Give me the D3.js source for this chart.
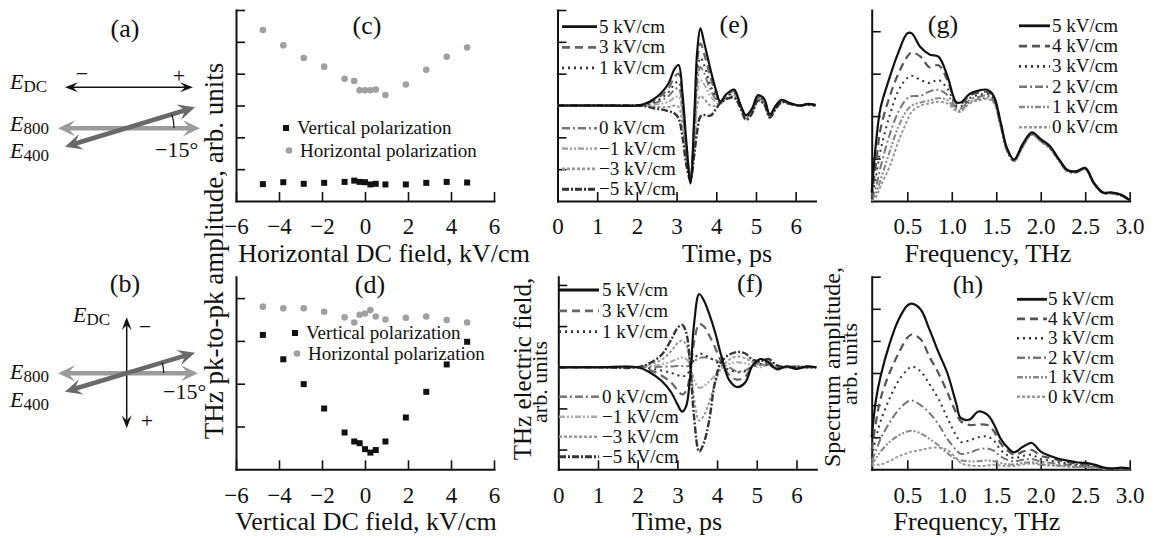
<!DOCTYPE html>
<html>
<head>
<meta charset="utf-8">
<script src="https://cdn.jsdelivr.net/npm/d3@7"></script>
<style>
  body { margin: 0; background: #fff; }
  svg { display: block; }
  text { font-family: "Liberation Serif", "Times New Roman", serif; fill: #111; }
</style>
</head>
<body>
<svg id="fig" width="1155" height="538"></svg>
<script>
// ---------------- data ----------------
// (c), (d): THz pk-to-pk amplitude vs DC field
const dcField = [-4.75, -3.8, -2.85, -1.9, -0.95, -0.5, -0.25, 0, 0.25, 0.5, 0.95, 1.9, 2.85, 3.8, 4.75];
const cHoriz = [5.37, 4.89, 4.49, 4.22, 3.84, 3.77, 3.48, 3.48, 3.48, 3.5, 3.33, 3.66, 4.12, 4.53, 4.82];
const cVert  = [0.53, 0.59, 0.54, 0.57, 0.6, 0.64, 0.6, 0.59, 0.52, 0.54, 0.52, 0.52, 0.57, 0.6, 0.58];
const dHoriz = [3.8, 3.76, 3.76, 3.68, 3.55, 3.43, 3.61, 3.64, 3.72, 3.57, 3.5, 3.54, 3.57, 3.49, 3.43];
const dVert  = [3.14, 2.57, 1.99, 1.42, 0.86, 0.65, 0.61, 0.47, 0.39, 0.45, 0.65, 1.21, 1.81, 2.45, 2.98];

// (e): THz waveforms, horizontal DC field
const timeE = [0, 1.0, 2.0, 2.2, 2.4, 2.6, 2.8, 2.95, 3.05, 3.15, 3.25, 3.35, 3.45, 3.52, 3.6, 3.7, 3.85, 4.0, 4.1, 4.25, 4.45, 4.6, 4.75, 4.9, 5.05, 5.2, 5.35, 5.5, 5.65, 5.85, 6.1, 6.3, 6.5];
const waveE5  = [0, 0, 0, 0.05, 0.18, 0.38, 0.7, 1.15, 1.27, 0.35, -1.2, -2.45, -0.2, 1.7, 2.42, 1.95, 1.15, 0.45, 0.12, 0.35, 0.5, 0.05, -0.3, -0.1, 0.32, 0.22, -0.28, 0.0, 0.18, 0.08, 0, 0.05, 0.02];
const waveE3  = [0, 0, 0, 0.03, 0.14, 0.3, 0.55, 0.9, 1.0, 0.2, -1.3, -2.35, -0.45, 1.35, 1.95, 1.6, 0.9, 0.35, 0.1, 0.3, 0.45, 0.05, -0.33, -0.14, 0.28, 0.18, -0.3, -0.02, 0.15, 0.07, 0, 0.04, 0.01];
const waveE1  = [0, 0, 0, 0.02, 0.1, 0.22, 0.42, 0.68, 0.75, 0.05, -1.4, -2.25, -0.7, 1.0, 1.5, 1.25, 0.65, 0.25, 0.08, 0.28, 0.4, 0.04, -0.36, -0.18, 0.24, 0.15, -0.32, -0.04, 0.14, 0.06, 0, 0.03, 0.01];
const waveE0  = [0, 0, 0, 0.01, 0.06, 0.15, 0.3, 0.5, 0.55, -0.1, -1.5, -2.2, -0.9, 0.75, 1.2, 1.0, 0.5, 0.18, 0.06, 0.25, 0.36, 0.03, -0.38, -0.2, 0.22, 0.12, -0.33, -0.05, 0.13, 0.06, 0, 0.03, 0.01];
const waveEm1 = [0, 0, 0, 0, 0.02, 0.05, 0.12, 0.25, 0.28, -0.3, -1.6, -2.2, -1.1, 0.4, 0.8, 0.65, 0.3, 0.1, 0.05, 0.23, 0.32, 0.02, -0.4, -0.22, 0.2, 0.1, -0.35, -0.06, 0.12, 0.05, 0, 0.03, 0];
const waveEm3 = [0, 0, 0, -0.01, -0.03, -0.05, -0.05, 0, -0.05, -0.6, -1.75, -2.3, -1.3, 0, 0.3, 0.2, 0, 0, 0.08, 0.22, 0.28, 0, -0.42, -0.24, 0.18, 0.08, -0.36, -0.08, 0.11, 0.05, 0, 0.02, 0];
const waveEm5 = [0, 0, 0, -0.02, -0.08, -0.12, -0.18, -0.25, -0.4, -1.0, -1.9, -2.35, -1.5, -0.8, -0.35, -0.3, -0.32, -0.1, 0.08, 0.2, 0.25, -0.05, -0.45, -0.25, 0.15, 0.05, -0.38, -0.1, 0.1, 0.05, 0, 0.02, 0];

// (f): THz waveforms, vertical DC field
const timeF = [0, 1.0, 2.0, 2.3, 2.6, 2.85, 3.0, 3.12, 3.22, 3.32, 3.42, 3.55, 3.68, 3.8, 3.95, 4.1, 4.3, 4.5, 4.7, 4.9, 5.1, 5.3, 5.5, 5.75, 6.0, 6.25, 6.5];
const waveF5  = [0, 0, 0, -0.12, -0.33, -0.62, -0.9, -1.08, -0.95, -0.25, 1.05, 1.78, 1.6, 1.3, 0.85, 0.3, -0.3, -0.48, -0.38, 0.05, 0.2, 0.12, -0.05, 0.02, -0.04, 0.02, 0];
const waveF3  = [0, 0, 0, -0.07, -0.2, -0.38, -0.55, -0.66, -0.58, -0.15, 0.6, 1.05, 0.98, 0.78, 0.48, 0.15, -0.18, -0.3, -0.24, 0.03, 0.14, 0.08, -0.03, 0.02, -0.02, 0.01, 0];
const waveF1  = [0, 0, 0, -0.03, -0.08, -0.14, -0.19, -0.22, -0.2, -0.05, 0.18, 0.33, 0.3, 0.24, 0.15, 0.05, -0.06, -0.12, -0.1, 0.02, 0.08, 0.05, -0.02, 0.01, -0.01, 0.01, 0];
const waveF0  = [0, 0, 0, 0, 0.01, 0.02, 0.03, 0.03, 0.02, 0.05, 0.15, 0.22, 0.24, 0.22, 0.18, 0.1, 0, -0.1, -0.08, 0.02, 0.06, 0.04, 0, 0.01, 0, 0, 0];
const waveFm1 = [0, 0, 0, 0.03, 0.07, 0.14, 0.2, 0.24, 0.2, 0.06, -0.3, -0.5, -0.45, -0.35, -0.2, -0.05, 0.08, 0.12, 0.1, 0.04, 0, 0.06, 0.02, 0, 0.01, 0, 0];
const waveFm3 = [0, 0, 0, 0.07, 0.18, 0.4, 0.58, 0.65, 0.55, 0.08, -0.75, -1.3, -1.15, -0.85, -0.4, -0.02, 0.18, 0.26, 0.22, 0.12, 0.06, 0.12, 0.03, 0.01, 0.02, 0, 0];
const waveFm5 = [0, 0, 0, 0.1, 0.3, 0.68, 0.95, 1.03, 0.85, 0.1, -1.2, -2.05, -1.8, -1.3, -0.35, 0.12, 0.3, 0.37, 0.34, 0.18, 0.15, 0.2, 0.05, 0, 0.02, 0, 0];

const waveLabels = ["5 kV/cm", "3 kV/cm", "1 kV/cm", "0 kV/cm", "\u22121 kV/cm", "\u22123 kV/cm", "\u22125 kV/cm"];

// (g), (h): spectra
const freq = [0.1, 0.15, 0.2, 0.3, 0.4, 0.5, 0.55, 0.65, 0.75, 0.85, 0.95, 1.05, 1.1, 1.2, 1.3, 1.4, 1.47, 1.55, 1.62, 1.7, 1.8, 1.9, 2.0, 2.1, 2.2, 2.3, 2.4, 2.5, 2.6, 2.7, 2.8, 2.9, 3.0];
const specG5 = [0.2, 1.4, 2.2, 2.9, 3.5, 3.95, 3.95, 3.62, 3.45, 3.4, 2.95, 2.33, 2.32, 2.52, 2.6, 2.62, 2.48, 1.85, 1.25, 0.98, 1.35, 1.62, 1.46, 1.3, 1.0, 0.73, 0.7, 0.78, 0.42, 0.2, 0.2, 0.15, 0.02];
const specG4 = [0.1, 0.9, 1.7, 2.45, 3.0, 3.4, 3.5, 3.4, 3.15, 3.2, 2.85, 2.3, 2.28, 2.48, 2.55, 2.57, 2.45, 1.83, 1.23, 0.97, 1.33, 1.6, 1.44, 1.28, 0.99, 0.72, 0.69, 0.77, 0.41, 0.2, 0.19, 0.14, 0.02];
const specG3 = [0.05, 0.6, 1.2, 2.0, 2.6, 2.9, 2.95, 2.85, 2.78, 2.85, 2.65, 2.25, 2.22, 2.42, 2.5, 2.52, 2.42, 1.8, 1.22, 0.96, 1.32, 1.59, 1.43, 1.27, 0.98, 0.72, 0.69, 0.76, 0.41, 0.19, 0.19, 0.14, 0.02];
const specG2 = [0.03, 0.35, 0.8, 1.55, 2.1, 2.42, 2.47, 2.48, 2.58, 2.62, 2.5, 2.2, 2.18, 2.38, 2.45, 2.48, 2.38, 1.78, 1.2, 0.95, 1.3, 1.58, 1.42, 1.26, 0.97, 0.71, 0.68, 0.76, 0.4, 0.19, 0.18, 0.13, 0.02];
const specG1 = [0.02, 0.2, 0.5, 1.15, 1.75, 2.15, 2.25, 2.32, 2.37, 2.42, 2.38, 2.15, 2.14, 2.33, 2.4, 2.43, 2.35, 1.76, 1.19, 0.94, 1.29, 1.57, 1.41, 1.25, 0.97, 0.7, 0.68, 0.75, 0.4, 0.19, 0.18, 0.13, 0.02];
const specG0 = [0.0, 0.1, 0.35, 0.8, 1.4, 1.9, 2.1, 2.25, 2.3, 2.34, 2.3, 2.12, 2.1, 2.3, 2.37, 2.4, 2.32, 1.75, 1.18, 0.94, 1.28, 1.56, 1.4, 1.24, 0.96, 0.7, 0.67, 0.75, 0.4, 0.18, 0.18, 0.13, 0.02];

const specH5 = [1.0, 2.2, 2.9, 3.9, 4.65, 5.1, 5.16, 4.98, 4.35, 3.65, 3.0, 2.05, 1.6, 1.55, 1.8, 1.7, 1.42, 0.95, 0.7, 0.53, 0.7, 0.82, 0.55, 0.42, 0.33, 0.27, 0.22, 0.2, 0.15, 0.06, 0.02, 0.05, 0.03];
const specH4 = [0.6, 1.5, 2.2, 3.0, 3.6, 4.1, 4.2, 4.05, 3.5, 3.0, 2.4, 1.75, 1.5, 1.38, 1.4, 1.38, 1.2, 0.8, 0.6, 0.45, 0.55, 0.6, 0.42, 0.35, 0.28, 0.22, 0.18, 0.16, 0.12, 0.05, 0.02, 0.03, 0.02];
const specH3 = [0.4, 1.0, 1.5, 2.2, 2.75, 3.1, 3.2, 3.05, 2.65, 2.2, 1.6, 1.05, 0.85, 0.9, 1.0, 1.02, 0.9, 0.6, 0.45, 0.35, 0.42, 0.45, 0.32, 0.27, 0.22, 0.18, 0.15, 0.13, 0.1, 0.04, 0.02, 0.02, 0.01];
const specH2 = [0.25, 0.6, 0.95, 1.45, 1.85, 2.1, 2.14, 2.0, 1.75, 1.4, 0.95, 0.6, 0.48, 0.52, 0.62, 0.65, 0.58, 0.4, 0.3, 0.25, 0.3, 0.32, 0.24, 0.2, 0.17, 0.14, 0.12, 0.1, 0.08, 0.03, 0.01, 0.02, 0.01];
const specH1 = [0.15, 0.35, 0.55, 0.85, 1.05, 1.18, 1.2, 1.12, 0.95, 0.75, 0.5, 0.32, 0.28, 0.25, 0.25, 0.28, 0.25, 0.2, 0.16, 0.15, 0.2, 0.22, 0.16, 0.13, 0.12, 0.1, 0.08, 0.07, 0.05, 0.02, 0.01, 0.01, 0];
const specH0 = [0.12, 0.14, 0.15, 0.25, 0.4, 0.5, 0.55, 0.6, 0.66, 0.68, 0.6, 0.35, 0.2, 0.12, 0.1, 0.12, 0.14, 0.12, 0.1, 0.1, 0.15, 0.18, 0.14, 0.12, 0.1, 0.08, 0.07, 0.06, 0.05, 0.02, 0.01, 0.01, 0];

const specLabels = ["5 kV/cm", "4 kV/cm", "3 kV/cm", "2 kV/cm", "1 kV/cm", "0 kV/cm"];

// tick labels
const fieldTicks = [-6, -4, -2, 0, 2, 4, 6];
const timeTicks = [0, 1, 2, 3, 4, 5, 6];
const freqTicks = [0.5, 1.0, 1.5, 2.0, 2.5, 3.0];

// ---------------- styles ----------------
const waveStyles = [
  {color: "#111", width: 2.2, dash: null},
  {color: "#666", width: 2.2, dash: "8,5"},
  {color: "#333", width: 2,   dash: "2,4"},
  {color: "#777", width: 2,   dash: "8,3,2,3"},
  {color: "#aaa", width: 2,   dash: "6,2,2,2,2,2"},
  {color: "#999", width: 2,   dash: "3,2"},
  {color: "#333", width: 2.4, dash: "7,2,2,2"}
];
const specStyles = [
  {color: "#111", width: 2.2, dash: null},
  {color: "#555", width: 2.2, dash: "8,5"},
  {color: "#333", width: 2,   dash: "2,4"},
  {color: "#777", width: 2,   dash: "8,3,2,3"},
  {color: "#888", width: 2,   dash: "6,2,2,2,2,2"},
  {color: "#999", width: 2,   dash: "3,2"}
];

const svg = d3.select("#fig");
const W = 258;
const rows = {top: [10, 201], bottom: [276.7, 469.3]};

function minusFmt(d) { return d < 0 ? "\u2212" + Math.abs(d) : String(d); }

function makePanel(p) {
  const x = d3.scaleLinear().domain(p.xDomain).range([p.left, p.left + W]);
  const y = d3.scaleLinear().domain(p.yDomain).range([p.row[1], p.row[0]]);
  const g = svg.append("g");

  const xAxis = d3.axisBottom(x).tickValues(p.xTicks).tickSizeInner(-9)
      .tickSizeOuter(0).tickPadding(17).tickFormat(p.xFormat);
  const yAxis = d3.axisLeft(y).tickValues(p.yTicks).tickSizeInner(-9)
      .tickSizeOuter(0).tickFormat("");

  const xg = g.append("g").attr("transform", `translate(0,${p.row[1]})`).call(xAxis);
  const yg = g.append("g").attr("transform", `translate(${p.left},0)`).call(yAxis);
  [xg, yg].forEach(a => {
    a.attr("font-family", null).attr("font-size", null);
    a.select(".domain").attr("stroke", "#111").attr("stroke-width", 2).attr("stroke-linecap", "square");
    a.selectAll(".tick line").attr("stroke", "#111").attr("stroke-width", 1.6);
  });
  xg.selectAll(".tick text").attr("fill", "#111").style("font-size", "23px");

  g.append("text")
      .attr("x", p.titleX).attr("y", p.row[1] + 61)
      .attr("text-anchor", "middle").style("font-size", "26px")
      .text(p.xTitle);
  return {x, y, g};
}

function drawSeries(panel, xs, series, styles, order) {
  const line = d3.line()
      .x((d, i) => panel.x(xs[i]))
      .y(d => panel.y(d))
      .curve(d3.curveCatmullRom.alpha(0.5));
  order.forEach(k => {
    const s = styles[k];
    panel.g.append("path")
        .attr("d", line(series[k]))
        .attr("fill", "none")
        .attr("stroke", s.color)
        .attr("stroke-width", s.width)
        .attr("stroke-dasharray", s.dash)
        .attr("stroke-linejoin", "round");
  });
}

function drawLegend(g, labels, styles, lg) {
  labels.forEach((lab, i) => {
    const grp = lg.groups.find(q => i >= q.from && i < q.from + q.n);
    const yy = grp.start + (i - grp.from) * grp.step;
    const s = styles[i];
    g.append("line")
        .attr("x1", lg.x1).attr("x2", lg.x2).attr("y1", yy).attr("y2", yy)
        .attr("stroke", s.color).attr("stroke-width", s.width + 0.6)
        .attr("stroke-dasharray", s.dash);
    g.append("text").attr("x", lg.tx).attr("y", yy + 6)
        .style("font-size", "19px").text(lab);
  });
}

function scatterPanel(panel, vert, horiz, leg) {
  panel.g.selectAll(".sq").data(vert).join("rect")
      .attr("x", (d, i) => panel.x(dcField[i]) - 3)
      .attr("y", d => panel.y(d) - 3)
      .attr("width", 6).attr("height", 6).attr("fill", "#111");
  panel.g.selectAll(".ci").data(horiz).join("circle")
      .attr("cx", (d, i) => panel.x(dcField[i]))
      .attr("cy", d => panel.y(d))
      .attr("r", 3.3).attr("fill", "#a0a0a0");
  // legend
  panel.g.append("rect").attr("x", leg.sq[0] - 3).attr("y", leg.sq[1] - 3)
      .attr("width", 6).attr("height", 6).attr("fill", "#111");
  panel.g.append("text").attr("x", leg.sq[0] + 11).attr("y", leg.sq[1] + 6)
      .style("font-size", "19px").text("Vertical polarization");
  panel.g.append("circle").attr("cx", leg.ci[0]).attr("cy", leg.ci[1])
      .attr("r", 3.3).attr("fill", "#a0a0a0");
  panel.g.append("text").attr("x", leg.ci[0] + 11).attr("y", leg.ci[1] + 6)
      .style("font-size", "19px").text("Horizontal polarization");
}

// ---------------- panels (c) & (d) ----------------
const pc = makePanel({left: 236, row: rows.top, xDomain: [-6, 6], yDomain: [0, 6],
  xTicks: fieldTicks, yTicks: [1, 2, 3, 4, 5, 6], xFormat: minusFmt,
  titleX: 384, xTitle: "Horizontal DC field, kV/cm"});
scatterPanel(pc, cVert, cHoriz, {sq: [286, 128], ci: [289, 150.5]});

const pd = makePanel({left: 236, row: rows.bottom, xDomain: [-6, 6], yDomain: [0, 4.5],
  xTicks: fieldTicks, yTicks: [1, 2, 3, 4], xFormat: minusFmt,
  titleX: 366, xTitle: "Vertical DC field, kV/cm"});
scatterPanel(pd, dVert, dHoriz, {sq: [295, 333], ci: [297, 353.5]});

svg.append("text")
    .attr("transform", "translate(223,251) rotate(-90)")
    .attr("text-anchor", "middle").style("font-size", "27px")
    .text("THz pk-to-pk amplitude, arb. units");

// ---------------- panels (e) & (f) ----------------
const waveOrder = [3, 4, 2, 5, 1, 6, 0];
const pe = makePanel({left: 557.5, row: rows.top, xDomain: [0, 6.5], yDomain: [-3, 3],
  xTicks: timeTicks, yTicks: [-2, -1, 0, 1, 2, 3], xFormat: d => d,
  titleX: 727, xTitle: "Time, ps"});
drawSeries(pe, timeE, [waveE5, waveE3, waveE1, waveE0, waveEm1, waveEm3, waveEm5], waveStyles, waveOrder);
drawLegend(pe.g, waveLabels, waveStyles, {x1: 562, x2: 597, tx: 599,
  groups: [{from: 0, n: 3, start: 26.7, step: 20.6}, {from: 3, n: 4, start: 128.3, step: 20.3}]});

const pf = makePanel({left: 558.3, row: rows.bottom, xDomain: [0, 6.5], yDomain: [-2.48, 2.2],
  xTicks: timeTicks, yTicks: [-2, -1, 0, 1, 2], xFormat: d => d,
  titleX: 677, xTitle: "Time, ps"});
drawSeries(pf, timeF, [waveF5, waveF3, waveF1, waveF0, waveFm1, waveFm3, waveFm5], waveStyles, waveOrder);
drawLegend(pf.g, waveLabels, waveStyles, {x1: 559, x2: 599, tx: 602,
  groups: [{from: 0, n: 3, start: 290, step: 20.8}, {from: 3, n: 4, start: 396.7, step: 20}]});

svg.append("text")
    .attr("transform", "translate(531,369) rotate(-90)")
    .attr("text-anchor", "middle").style("font-size", "25px")
    .text("THz electric field,");
svg.append("text")
    .attr("transform", "translate(547,382) rotate(-90)")
    .attr("text-anchor", "middle").style("font-size", "22px")
    .text("arb. units");

// ---------------- panels (g) & (h) ----------------
const specOrder = [5, 4, 3, 2, 1, 0];
const pg = makePanel({left: 871.7, row: rows.top, xDomain: [0.1, 3.0], yDomain: [0, 4.5],
  xTicks: freqTicks, yTicks: [1, 2, 3, 4], xFormat: d3.format(".1f"),
  titleX: 988, xTitle: "Frequency, THz"});
drawSeries(pg, freq, [specG5, specG4, specG3, specG2, specG1, specG0], specStyles, specOrder);
drawLegend(pg.g, specLabels, specStyles, {x1: 1019, x2: 1050, tx: 1052,
  groups: [{from: 0, n: 6, start: 25.8, step: 20.3}]});

const ph = makePanel({left: 871.7, row: rows.bottom, xDomain: [0.1, 3.0], yDomain: [0, 6],
  xTicks: freqTicks, yTicks: [1, 2, 3, 4, 5, 6], xFormat: d3.format(".1f"),
  titleX: 977, xTitle: "Frequency, THz"});
drawSeries(ph, freq, [specH5, specH4, specH3, specH2, specH1, specH0], specStyles, specOrder);
drawLegend(ph.g, specLabels, specStyles, {x1: 1017, x2: 1047, tx: 1048,
  groups: [{from: 0, n: 6, start: 299.3, step: 19.5}]});

svg.append("text")
    .attr("transform", "translate(840,367) rotate(-90)")
    .attr("text-anchor", "middle").style("font-size", "24px")
    .text("Spectrum amplitude,");
svg.append("text")
    .attr("transform", "translate(857,364) rotate(-90)")
    .attr("text-anchor", "middle").style("font-size", "22px")
    .text("arb. units");

// ---------------- panel letters ----------------
[["(a)", 125, 37], ["(b)", 125, 292], ["(c)", 367, 34], ["(d)", 370, 293],
 ["(e)", 734, 33], ["(f)", 750, 292], ["(g)", 943, 33], ["(h)", 968, 293]]
  .forEach(([t, x, y]) => svg.append("text").attr("x", x).attr("y", y)
      .attr("text-anchor", "middle").style("font-size", "26px").text(t));

// ---------------- polarization sketches (a), (b) ----------------
function head(g, tip, from, len, hw, color) {
  const dx = tip[0] - from[0], dy = tip[1] - from[1], L = Math.hypot(dx, dy);
  const ux = dx / L, uy = dy / L, px = -uy, py = ux;
  const bx = tip[0] - ux * len, by = tip[1] - uy * len;
  const nx = tip[0] - ux * len * 0.6, ny = tip[1] - uy * len * 0.6;
  g.append("path")
      .attr("d", `M${tip[0]},${tip[1]}L${bx + px * hw},${by + py * hw}L${nx},${ny}L${bx - px * hw},${by - py * hw}Z`)
      .attr("fill", color);
}
function dblArrow(g, a, b, color, w, len, hw) {
  const dx = b[0] - a[0], dy = b[1] - a[1], L = Math.hypot(dx, dy);
  const ux = dx / L, uy = dy / L, s = len * 0.6;
  g.append("line")
      .attr("x1", a[0] + ux * s).attr("y1", a[1] + uy * s)
      .attr("x2", b[0] - ux * s).attr("y2", b[1] - uy * s)
      .attr("stroke", color).attr("stroke-width", w);
  head(g, b, a, len, hw, color);
  head(g, a, b, len, hw, color);
}
function angleArc(g, c, r, a400) {
  const t = Math.atan2(-(a400[1] - c[1]), a400[0] - c[0]);
  g.append("path")
      .attr("d", `M${c[0] + r},${c[1]}A${r},${r} 0 0 0 ${c[0] + r * Math.cos(t)},${c[1] - r * Math.sin(t)}`)
      .attr("fill", "none").attr("stroke", "#111").attr("stroke-width", 1.2);
}
function eLabel(g, x, y, sub) {
  const t = g.append("text").attr("x", x).attr("y", y).style("font-size", "22px");
  t.append("tspan").style("font-style", "italic").text("E");
  t.append("tspan").attr("dy", 3).style("font-size", "17px").text(sub);
}
function sign(g, x, y, s) {
  g.append("text").attr("x", x).attr("y", y).attr("text-anchor", "middle")
      .style("font-size", "22px").text(s);
}

const sk = svg.append("g");
// (a) horizontal DC field
dblArrow(sk, [65, 87.3], [193, 87.3], "#111", 1.5, 13, 5);
dblArrow(sk, [58, 128.3], [200, 128.3], "#9b9b9b", 4.5, 17, 8);
dblArrow(sk, [65, 146.7], [195, 107.3], "#696969", 4.5, 17, 8);
angleArc(sk, [130, 128], 44, [195, 107.3]);
eLabel(sk, 10, 89, "DC");
eLabel(sk, 10, 130.5, "800");
eLabel(sk, 10, 157.5, "400");
sign(sk, 82, 81, "\u2212");
sign(sk, 179, 83, "+");
sk.append("text").attr("x", 155).attr("y", 156.5).style("font-size", "22px").text("\u221215\u00b0");

// (b) vertical DC field
dblArrow(sk, [126.7, 317.3], [126.7, 428.3], "#111", 1.5, 13, 5);
dblArrow(sk, [58, 373.3], [198, 373.3], "#9b9b9b", 4.5, 17, 8);
dblArrow(sk, [65, 391.7], [195, 352.7], "#696969", 4.5, 17, 8);
angleArc(sk, [126.7, 373], 37, [195, 352.7]);
eLabel(sk, 73, 322, "DC");
eLabel(sk, 10, 378.5, "800");
eLabel(sk, 10, 407, "400");
sign(sk, 145, 334, "\u2212");
sign(sk, 147, 428, "+");
sk.append("text").attr("x", 163).attr("y", 398.5).style("font-size", "22px").text("\u221215\u00b0");
</script>
</body>
</html>
